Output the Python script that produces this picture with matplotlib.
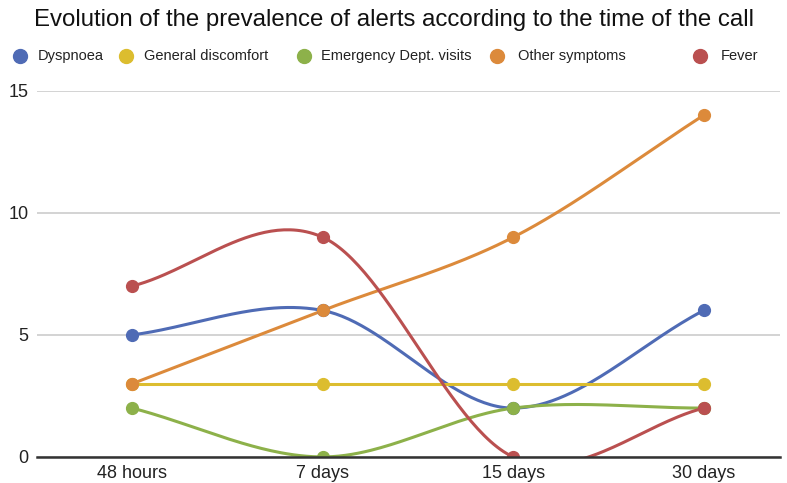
import numpy as np
import matplotlib
matplotlib.use('Agg')
import matplotlib.pyplot as plt
from matplotlib.lines import Line2D

plt.rcParams['font.family'] = ['Liberation Sans', 'DejaVu Sans']

# Call times and alert counts per series
periods = ['48 hours', '7 days', '15 days', '30 days']
dyspnoea = [5, 6, 2, 6]
general_discomfort = [3, 3, 3, 3]
emergency_visits = [2, 0, 2, 2]
other_symptoms = [3, 6, 9, 14]
fever = [7, 9, 0, 2]

series = [
    ('Dyspnoea', dyspnoea, '#4f6bb5'),
    ('General discomfort', general_discomfort, '#dcbd2f'),
    ('Emergency Dept. visits', emergency_visits, '#8db14a'),
    ('Other symptoms', other_symptoms, '#dc8a3b'),
    ('Fever', fever, '#ba5050'),
]


def smooth(values, n=60):
    # Catmull-Rom style curve; end tangents follow the first/last segment
    y = np.asarray(values, dtype=float)
    k = len(y)
    m = np.empty(k)
    m[0] = y[1] - y[0]
    m[-1] = y[-1] - y[-2]
    m[1:-1] = (y[2:] - y[:-2]) / 2
    xs, ys = [], []
    t = np.linspace(0, 1, n)
    h00 = 2 * t**3 - 3 * t**2 + 1
    h10 = t**3 - 2 * t**2 + t
    h01 = -2 * t**3 + 3 * t**2
    h11 = t**3 - t**2
    for i in range(k - 1):
        xs.append(i + t)
        ys.append(h00 * y[i] + h10 * m[i] + h01 * y[i + 1] + h11 * m[i + 1])
    return np.concatenate(xs), np.concatenate(ys)


fig = plt.figure(figsize=(7.87, 4.83), dpi=100)
ax = fig.add_axes([0.047, 0.054, 0.944, 0.758])

x = np.arange(len(periods))
for name, vals, col in series:
    sx, sy = smooth(vals)
    ax.plot(sx, sy, color=col, linewidth=2.2, solid_capstyle='round', zorder=3)
    ax.plot(x, vals, 'o', color=col, markersize=8.5, zorder=4)

ax.set_xlim(-0.5, 3.4)
ax.set_ylim(0, 15)
ax.set_yticks([0, 5, 10, 15])
ax.set_xticks(x)
ax.set_xticklabels(periods)
ax.tick_params(axis='both', length=0, labelsize=13, colors='#222222')
ax.tick_params(axis='y', pad=6)
ax.tick_params(axis='x', pad=6)
ax.grid(axis='y', color='#cccccc', linewidth=1.2)
ax.set_axisbelow(True)
for s in ax.spines.values():
    s.set_visible(False)
ax.axhline(0, color='#333333', linewidth=1.8, zorder=5, clip_on=False)

fig.text(0.5, 0.958, 'Evolution of the prevalence of alerts according to the time of the call',
         ha='center', va='center', fontsize=17.3, color='#111111')

# Legend row along the top
leg_circle_x = [20, 126, 304, 497, 700]
leg_text_x = [38, 144, 321, 518, 721]
leg_y = 1 - 56 / 483
for (name, vals, col), cx, tx in zip(series, leg_circle_x, leg_text_x):
    fig.add_artist(Line2D([cx / 787], [leg_y], marker='o', color=col,
                          markersize=10, linestyle='none'))
    fig.text(tx / 787, leg_y, name, ha='left', va='center', fontsize=10.5, color='#222222')

fig.savefig('out.png', dpi=100, facecolor='white')
